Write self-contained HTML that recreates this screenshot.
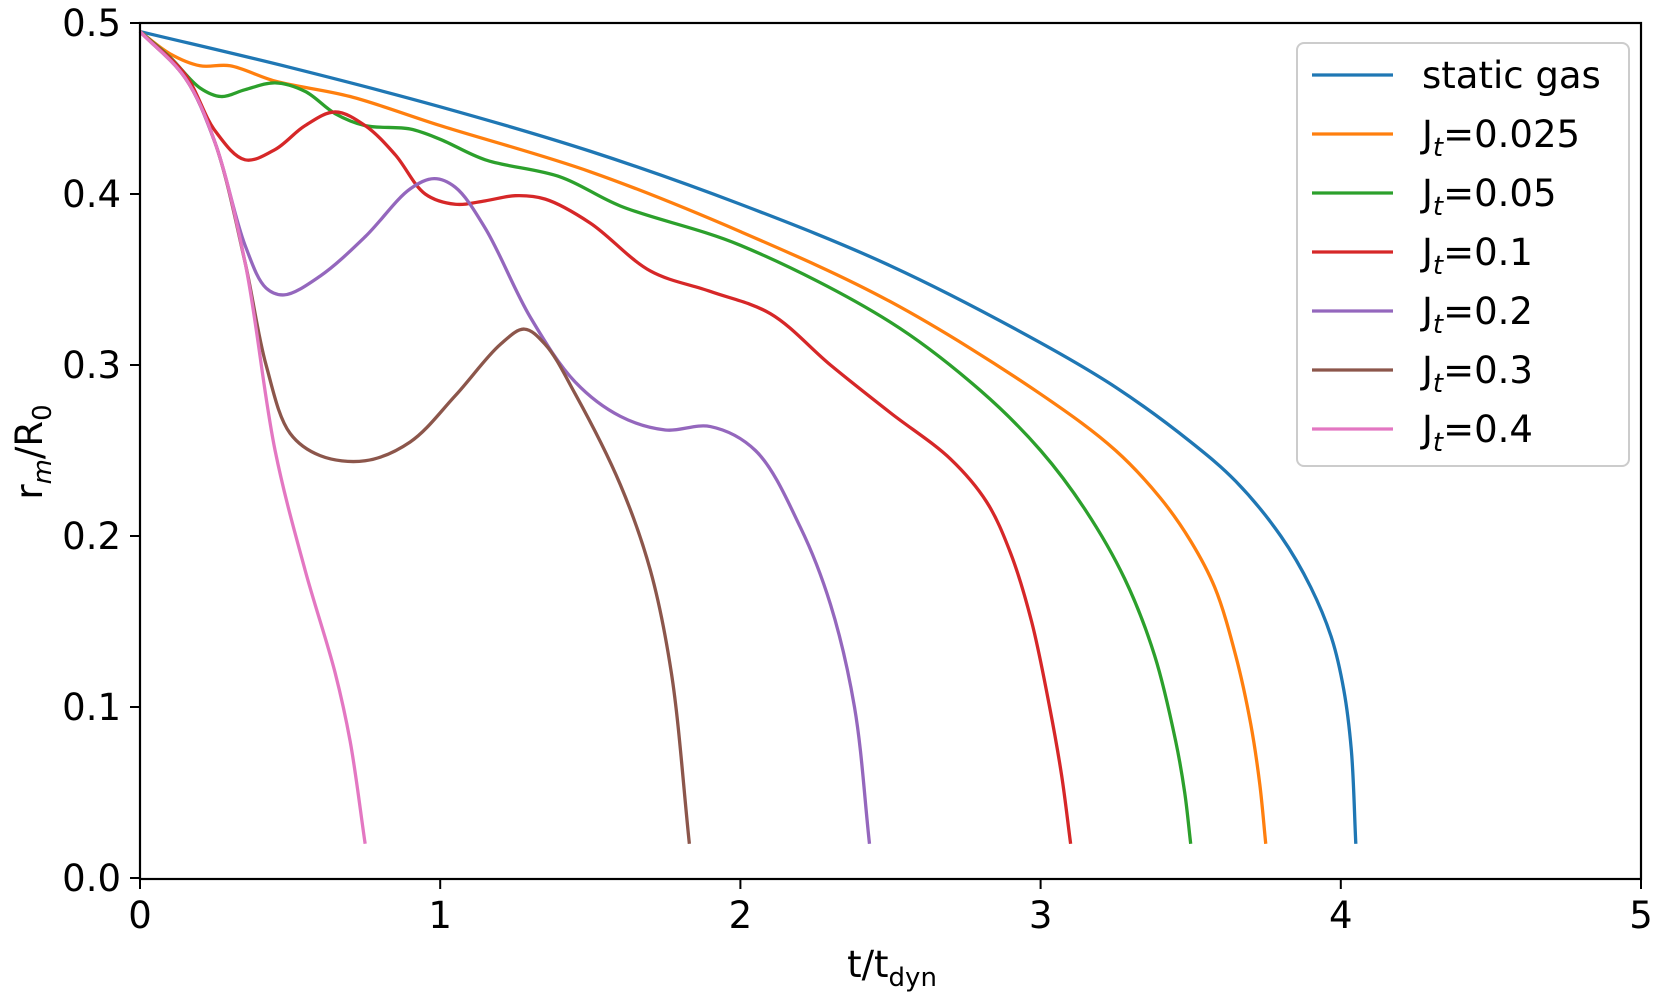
<!DOCTYPE html>
<html><head><meta charset="utf-8"><style>
body{margin:0;background:#fff}
text{font-family:"DejaVu Sans","Liberation Sans",sans-serif;fill:#000}
</style></head><body>
<svg id="chart" width="1661" height="997" viewBox="0 0 1661 997" xmlns="http://www.w3.org/2000/svg">
<g id="series"></g>
<rect x="140" y="23" width="1501" height="856" fill="none" stroke="#000" stroke-width="2.2"/>
<g id="axes"></g>
<text x="892" y="977" font-size="37" text-anchor="middle">t/t<tspan font-size="26" dy="9">dyn</tspan></text>
<text transform="translate(42,452) rotate(-90)" font-size="37" text-anchor="middle">r<tspan font-size="26" dy="9" font-style="italic">m</tspan><tspan dy="-9">/R</tspan><tspan font-size="26" dy="9">0</tspan></text>
<g id="legend">
<rect x="1297" y="43" width="332" height="423" rx="7" fill="#fff" fill-opacity="0.8" stroke="#ccc" stroke-width="2"/>
</g>
</svg>
<script>
const xTicks=[0,1,2,3,4,5];
const yTicks=[0,0.1,0.2,0.3,0.4,0.5];
const yTickLabels=["0.0","0.1","0.2","0.3","0.4","0.5"];
const seriesNames=["static gas","J_t=0.025","J_t=0.05","J_t=0.1","J_t=0.2","J_t=0.3","J_t=0.4"];
const seriesColors=["#1f77b4","#ff7f0e","#2ca02c","#d62728","#9467bd","#8c564b","#e377c2"];
const staticGas=[[0,0.495],[0.5,0.474],[1,0.451],[1.5,0.425],[2,0.394],[2.5,0.358],[3,0.313],[3.25,0.287],[3.5,0.255],[3.65,0.232],[3.8,0.2],[3.9,0.17],[3.97,0.14],[4.01,0.11],[4.035,0.075],[4.05,0.02]];
const jt0025=[[0,0.495],[0.1,0.482],[0.2,0.475],[0.3,0.475],[0.45,0.466],[0.7,0.457],[1,0.440],[1.5,0.413],[2,0.378],[2.5,0.337],[3,0.283],[3.25,0.25],[3.4,0.222],[3.5,0.197],[3.58,0.17],[3.65,0.13],[3.7,0.09],[3.73,0.055],[3.75,0.02]];
const jt005=[[0,0.495],[0.1,0.48],[0.2,0.462],[0.27,0.457],[0.35,0.461],[0.45,0.465],[0.55,0.460],[0.65,0.447],[0.75,0.440],[0.9,0.438],[1,0.432],[1.15,0.420],[1.4,0.41],[1.6,0.393],[2,0.37],[2.5,0.325],[2.8,0.285],[3,0.25],[3.15,0.215],[3.28,0.175],[3.38,0.13],[3.45,0.08],[3.48,0.05],[3.5,0.02]];
const jt01=[[0,0.495],[0.15,0.47],[0.25,0.437],[0.35,0.420],[0.45,0.426],[0.55,0.440],[0.65,0.448],[0.75,0.440],[0.85,0.423],[0.95,0.400],[1.05,0.394],[1.15,0.396],[1.25,0.399],[1.35,0.397],[1.5,0.383],[1.7,0.355],[1.9,0.343],[2.1,0.330],[2.3,0.300],[2.5,0.272],[2.7,0.245],[2.82,0.22],[2.9,0.19],[2.97,0.15],[3.03,0.1],[3.07,0.06],[3.1,0.02]];
const jt02=[[0,0.495],[0.15,0.468],[0.25,0.43],[0.35,0.37],[0.42,0.345],[0.48,0.341],[0.6,0.352],[0.75,0.375],[0.9,0.403],[0.98,0.409],[1.05,0.404],[1.15,0.380],[1.3,0.328],[1.45,0.290],[1.6,0.270],[1.75,0.262],[1.9,0.264],[2.05,0.250],[2.2,0.205],[2.3,0.16],[2.38,0.10],[2.43,0.02]];
const jt03=[[0,0.495],[0.15,0.468],[0.25,0.43],[0.35,0.36],[0.42,0.30],[0.5,0.26],[0.6,0.247],[0.75,0.244],[0.9,0.255],[1.05,0.282],[1.2,0.312],[1.28,0.321],[1.35,0.312],[1.45,0.283],[1.6,0.23],[1.7,0.18],[1.77,0.12],[1.83,0.02]];
const jt04=[[0,0.495],[0.15,0.468],[0.25,0.43],[0.35,0.36],[0.45,0.25],[0.55,0.18],[0.65,0.12],[0.7,0.08],[0.75,0.02]];
const allSeries=[staticGas,jt0025,jt005,jt01,jt02,jt03,jt04];

const X=v=>140+v*300.2, Y=v=>878-v*1710;
const NS="http://www.w3.org/2000/svg";
function mk(tag,attrs,parent){const e=document.createElementNS(NS,tag);for(const k in attrs)e.setAttribute(k,attrs[k]);parent.appendChild(e);return e;}
function dist(a,b){return Math.max(1e-6,Math.hypot(a[0]-b[0],a[1]-b[1]));}
function spline(pts){
  const p=pts.map(d=>[X(d[0]),Y(d[1])]);
  let s=`M${p[0][0]},${p[0][1]}`;
  for(let i=0;i<p.length-1;i++){
    const p1=p[i],p2=p[i+1];
    const p0=p[i-1]||[2*p1[0]-p2[0],2*p1[1]-p2[1]];
    const p3=p[i+2]||[2*p2[0]-p1[0],2*p2[1]-p1[1]];
    const d1=Math.sqrt(dist(p0,p1)),d2=Math.sqrt(dist(p1,p2)),d3=Math.sqrt(dist(p2,p3));
    const a1=d1*d1,a2=d2*d2,a3=d3*d3;
    const c1=[0,1].map(k=>(a1*p2[k]-a2*p0[k]+(2*a1+3*d1*d2+a2)*p1[k])/(3*d1*(d1+d2)));
    const c2=[0,1].map(k=>(a3*p1[k]-a2*p3[k]+(2*a3+3*d3*d2+a2)*p2[k])/(3*d3*(d3+d2)));
    s+=`C${c1[0]},${c1[1]} ${c2[0]},${c2[1]} ${p2[0]},${p2[1]}`;
  }
  return s;
}
const sg=document.getElementById('series');
allSeries.forEach((d,i)=>{
  const el=mk('path',{d:spline(d),fill:'none',stroke:seriesColors[i],'stroke-width':3.3,'stroke-linejoin':'round'},sg);
  
  
});
const ax=document.getElementById('axes');
xTicks.forEach(t=>{
  const l=mk('line',{x1:X(t),x2:X(t),y1:879,y2:889,stroke:'#000','stroke-width':2},ax);
  
  
  const tx=mk('text',{x:X(t),y:928,'font-size':37,'text-anchor':'middle'},ax);
  tx.textContent=t;
  
  
});
yTicks.forEach((t,i)=>{
  const l=mk('line',{x1:130,x2:140,y1:Y(t),y2:Y(t),stroke:'#000','stroke-width':2},ax);
  
  
  const tx=mk('text',{x:121,y:Y(t)+13,'font-size':37,'text-anchor':'end'},ax);
  tx.textContent=yTickLabels[i];
  
  
});
const lg=document.getElementById('legend');
seriesNames.forEach((n,i)=>{
  const y=75+i*59;
  const l=mk('line',{x1:1312,x2:1393,y1:y,y2:y,stroke:seriesColors[i],'stroke-width':3.3},lg);
  
  
  const tx=mk('text',{x:1422,y:y+13,'font-size':37},lg);
  if(n.startsWith('J_t')){tx.innerHTML='J<tspan font-size="26" dy="9" font-style="italic">t</tspan><tspan dy="-9">'+n.slice(3)+'</tspan>';}
  else tx.textContent=n;
  
  
});
</script>
</body></html>
